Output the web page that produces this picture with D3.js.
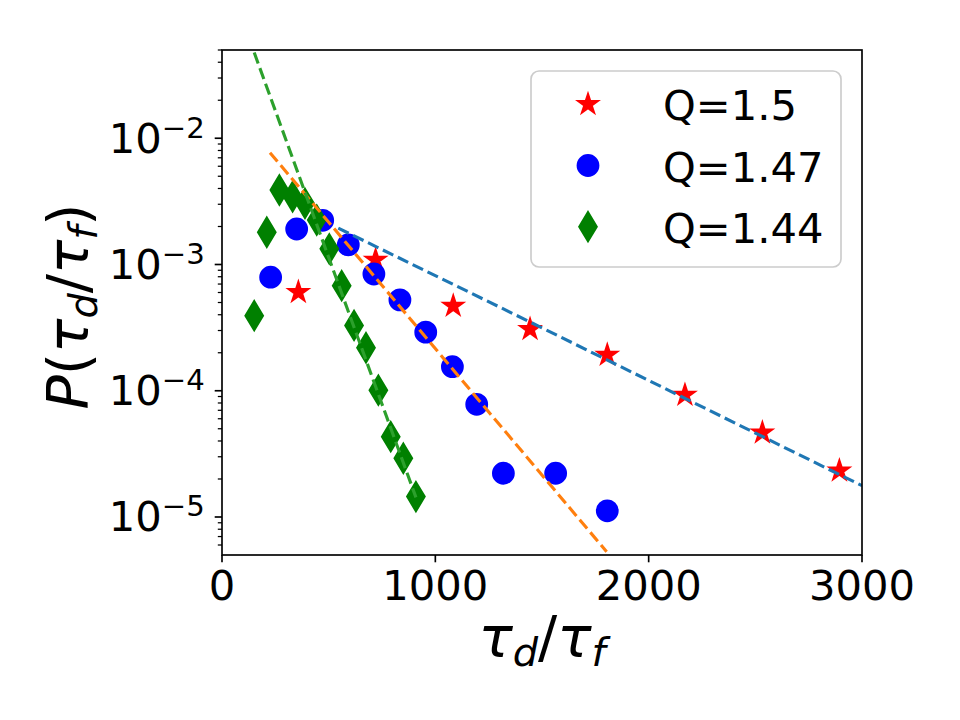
<!DOCTYPE html>
<html>
<head>
<meta charset="utf-8">
<script src="https://cdn.jsdelivr.net/npm/d3@7/dist/d3.min.js"></script>
<style>
  html, body { margin: 0; padding: 0; background: #fff; }
  svg { display: block; font-family: 'DejaVu Sans', sans-serif; }
</style>
</head>
<body>
<svg id="chart" width="960" height="720"></svg>
<script>
// Q = 1.5 (red stars)
const starX = [358, 720, 1084, 1444, 1806, 2170, 2533, 2894]
const starP = [6.03e-4, 1.087e-3, 4.69e-4, 3.07e-4, 1.92e-4, 9.25e-5, 4.65e-5, 2.33e-5]

// Q = 1.47 (blue circles)
const circleX = [228, 350, 472, 592, 712, 834, 955, 1080, 1194, 1319, 1564, 1806]
const circleP = [7.93e-4, 1.91e-3, 2.24e-3, 1.43e-3, 8.41e-4, 5.24e-4, 2.91e-4, 1.55e-4, 7.81e-5, 2.22e-5, 2.22e-5, 1.12e-5]

// Q = 1.44 (green diamonds)
const diamondX = [151, 210, 269, 331, 389, 444, 503, 561, 619, 675, 733, 791, 850, 909]
const diamondP = [3.93e-4, 1.80e-3, 3.89e-3, 3.44e-3, 3.05e-3, 2.25e-3, 1.33e-3, 6.79e-4, 3.29e-4, 2.19e-4, 1.01e-4, 4.33e-5, 2.92e-5, 1.45e-5]

// dashed fits
const fitBlueX = [545, 1490, 3000]
const fitBlueP = [1.94e-3, 3.21e-4, 1.77e-5]
const fitOrangeX = [225, 1803]
const fitOrangeP = [7.69e-3, 5.31e-6]
const fitGreenX = [151, 909]
const fitGreenP = [4.77e-2, 1.43e-5]

const legendLabels = ['Q=1.5', 'Q=1.47', 'Q=1.44']
const xTicks = [0, 1000, 2000, 3000]
const yTicks = [1e-5, 1e-4, 1e-3, 1e-2]
const yTickExp = ['\u22125', '\u22124', '\u22123', '\u22122']

const margin = { left: 222, right: 862, top: 50, bottom: 555 }
const fontTick = 41.67
const ms = 20.8 // marker size in px

const svg = d3.select('#chart')

const x = d3.scaleLinear().domain([0, 3000]).range([margin.left, margin.right])
const y = d3.scaleLog().domain([5e-6, 0.05]).range([margin.bottom, margin.top])

svg.append('defs').append('clipPath').attr('id', 'plotclip')
  .append('rect')
  .attr('x', margin.left).attr('y', margin.top)
  .attr('width', margin.right - margin.left).attr('height', margin.bottom - margin.top)

const zip = (xs, ps) => xs.map((v, i) => [v, ps[i]])

// marker paths
const starPath = d3.symbol(d3.symbolStar, (ms / 2) * (ms / 2) / 0.8908130915292852)()
const circlePath = d3.symbol(d3.symbolCircle, Math.PI * (ms / 2) * (ms / 2))()
const diamondPath = (() => {
  const h = 0.7071 * ms, w = 0.4243 * ms
  return `M0,${-h}L${w},0L0,${h}L${-w},0Z`
})()

const series = [
  { pts: zip(starX, starP), path: starPath, color: '#ff0000' },
  { pts: zip(circleX, circleP), path: circlePath, color: '#0000ff' },
  { pts: zip(diamondX, diamondP), path: diamondPath, color: '#008000' }
]

const plot = svg.append('g').attr('clip-path', 'url(#plotclip)')

series.forEach((s) => {
  plot.append('g').selectAll('path')
    .data(s.pts)
    .enter()
    .append('path')
    .attr('d', s.path)
    .attr('transform', (d) => `translate(${x(d[0])},${y(d[1])})`)
    .attr('fill', s.color)
    .attr('stroke', s.color)
    .attr('stroke-width', 2)
    .attr('stroke-linejoin', 'miter')
})

const line = d3.line().x((d) => x(d[0])).y((d) => y(d[1]))

const fits = [
  { pts: zip(fitBlueX, fitBlueP), color: '#1f77b4' },
  { pts: zip(fitOrangeX, fitOrangeP), color: '#ff7f0e' },
  { pts: zip(fitGreenX, fitGreenP), color: '#2ca02c' }
]

fits.forEach((f) => {
  plot.append('path')
    .datum(f.pts)
    .attr('d', line)
    .attr('fill', 'none')
    .attr('stroke', f.color)
    .attr('stroke-width', 3.125)
    .attr('stroke-dasharray', '11.56,5')
})

// axes
const axisColor = '#000'
const majorLen = 7.3
const minorLen = 4.2

const xAxis = svg.append('g')
xAxis.selectAll('line')
  .data(xTicks)
  .enter()
  .append('line')
  .attr('x1', (d) => x(d)).attr('x2', (d) => x(d))
  .attr('y1', margin.bottom).attr('y2', margin.bottom + majorLen)
  .attr('stroke', axisColor).attr('stroke-width', 1.67)
xAxis.selectAll('text')
  .data(xTicks)
  .enter()
  .append('text')
  .attr('x', (d) => x(d))
  .attr('y', margin.bottom + majorLen + 7.3 + 30.5)
  .attr('text-anchor', 'middle')
  .attr('font-size', fontTick)
  .text((d) => d)

// y minor ticks
const minor = []
for (let e = -6; e <= -2; e++) {
  for (let m = 2; m <= 9; m++) {
    const v = m * Math.pow(10, e)
    if (v >= 5e-6 && v <= 0.05) minor.push(v)
  }
}
const yAxis = svg.append('g')
yAxis.selectAll('line.minor')
  .data(minor)
  .enter()
  .append('line')
  .attr('class', 'minor')
  .attr('x1', margin.left - minorLen).attr('x2', margin.left)
  .attr('y1', (d) => y(d)).attr('y2', (d) => y(d))
  .attr('stroke', axisColor).attr('stroke-width', 1.25)
yAxis.selectAll('line.major')
  .data(yTicks)
  .enter()
  .append('line')
  .attr('class', 'major')
  .attr('x1', margin.left - majorLen).attr('x2', margin.left)
  .attr('y1', (d) => y(d)).attr('y2', (d) => y(d))
  .attr('stroke', axisColor).attr('stroke-width', 1.67)

const yLabels = yAxis.selectAll('text')
  .data(yTicks)
  .enter()
  .append('text')
  .attr('x', margin.left - majorLen - 10)
  .attr('y', (d) => y(d) + 14.5)
  .attr('text-anchor', 'end')
  .attr('font-size', fontTick)
yLabels.append('tspan').text('10')
yLabels.append('tspan')
  .attr('dy', -15)
  .attr('font-size', fontTick * 0.7)
  .text((d, i) => yTickExp[i])

// spines
svg.append('rect')
  .attr('x', margin.left).attr('y', margin.top)
  .attr('width', margin.right - margin.left).attr('height', margin.bottom - margin.top)
  .attr('fill', 'none').attr('stroke', axisColor).attr('stroke-width', 1.67)

// axis labels
const labelSize = 57
const xl = svg.append('text')
  .attr('x', (margin.left + margin.right) / 2)
  .attr('y', 657)
  .attr('text-anchor', 'middle')
  .attr('font-size', labelSize)
  .attr('font-style', 'italic')
xl.append('tspan').text('\u03c4')
xl.append('tspan').attr('dy', 9).attr('font-size', labelSize * 0.7).text('d')
xl.append('tspan').attr('dy', -9).attr('font-style', 'normal').text('/')
xl.append('tspan').text('\u03c4')
xl.append('tspan').attr('dy', 9).attr('font-size', labelSize * 0.7).text('f')

const yl = svg.append('text')
  .attr('transform', `translate(88,${(margin.top + margin.bottom) / 2 + 4}) rotate(-90)`)
  .attr('text-anchor', 'middle')
  .attr('font-size', labelSize)
  .attr('font-style', 'italic')
yl.append('tspan').text('P')
yl.append('tspan').attr('font-style', 'normal').text('(')
yl.append('tspan').text('\u03c4')
yl.append('tspan').attr('dy', 9).attr('font-size', labelSize * 0.7).text('d')
yl.append('tspan').attr('dy', -9).attr('font-style', 'normal').text('/')
yl.append('tspan').text('\u03c4')
yl.append('tspan').attr('dy', 9).attr('font-size', labelSize * 0.7).text('f')
yl.append('tspan').attr('dy', -9).attr('font-style', 'normal').text(')')

// legend
const legend = svg.append('g')
legend.append('rect')
  .attr('x', 531).attr('y', 71)
  .attr('width', 310).attr('height', 196)
  .attr('rx', 8).attr('ry', 8)
  .attr('fill', '#fff').attr('fill-opacity', 0.8)
  .attr('stroke', '#cccccc').attr('stroke-width', 1.67)

const legendRows = legend.selectAll('g.row')
  .data(series)
  .enter()
  .append('g')
  .attr('class', 'row')
  .attr('transform', (d, i) => `translate(588,${104.3 + i * 61.2})`)
legendRows.append('path')
  .attr('d', (d) => d.path)
  .attr('fill', (d) => d.color)
  .attr('stroke', (d) => d.color)
  .attr('stroke-width', 2)
legendRows.append('text')
  .attr('x', 75)
  .attr('y', 16)
  .attr('font-size', fontTick)
  .text((d, i) => legendLabels[i])
</script>
</body>
</html>
